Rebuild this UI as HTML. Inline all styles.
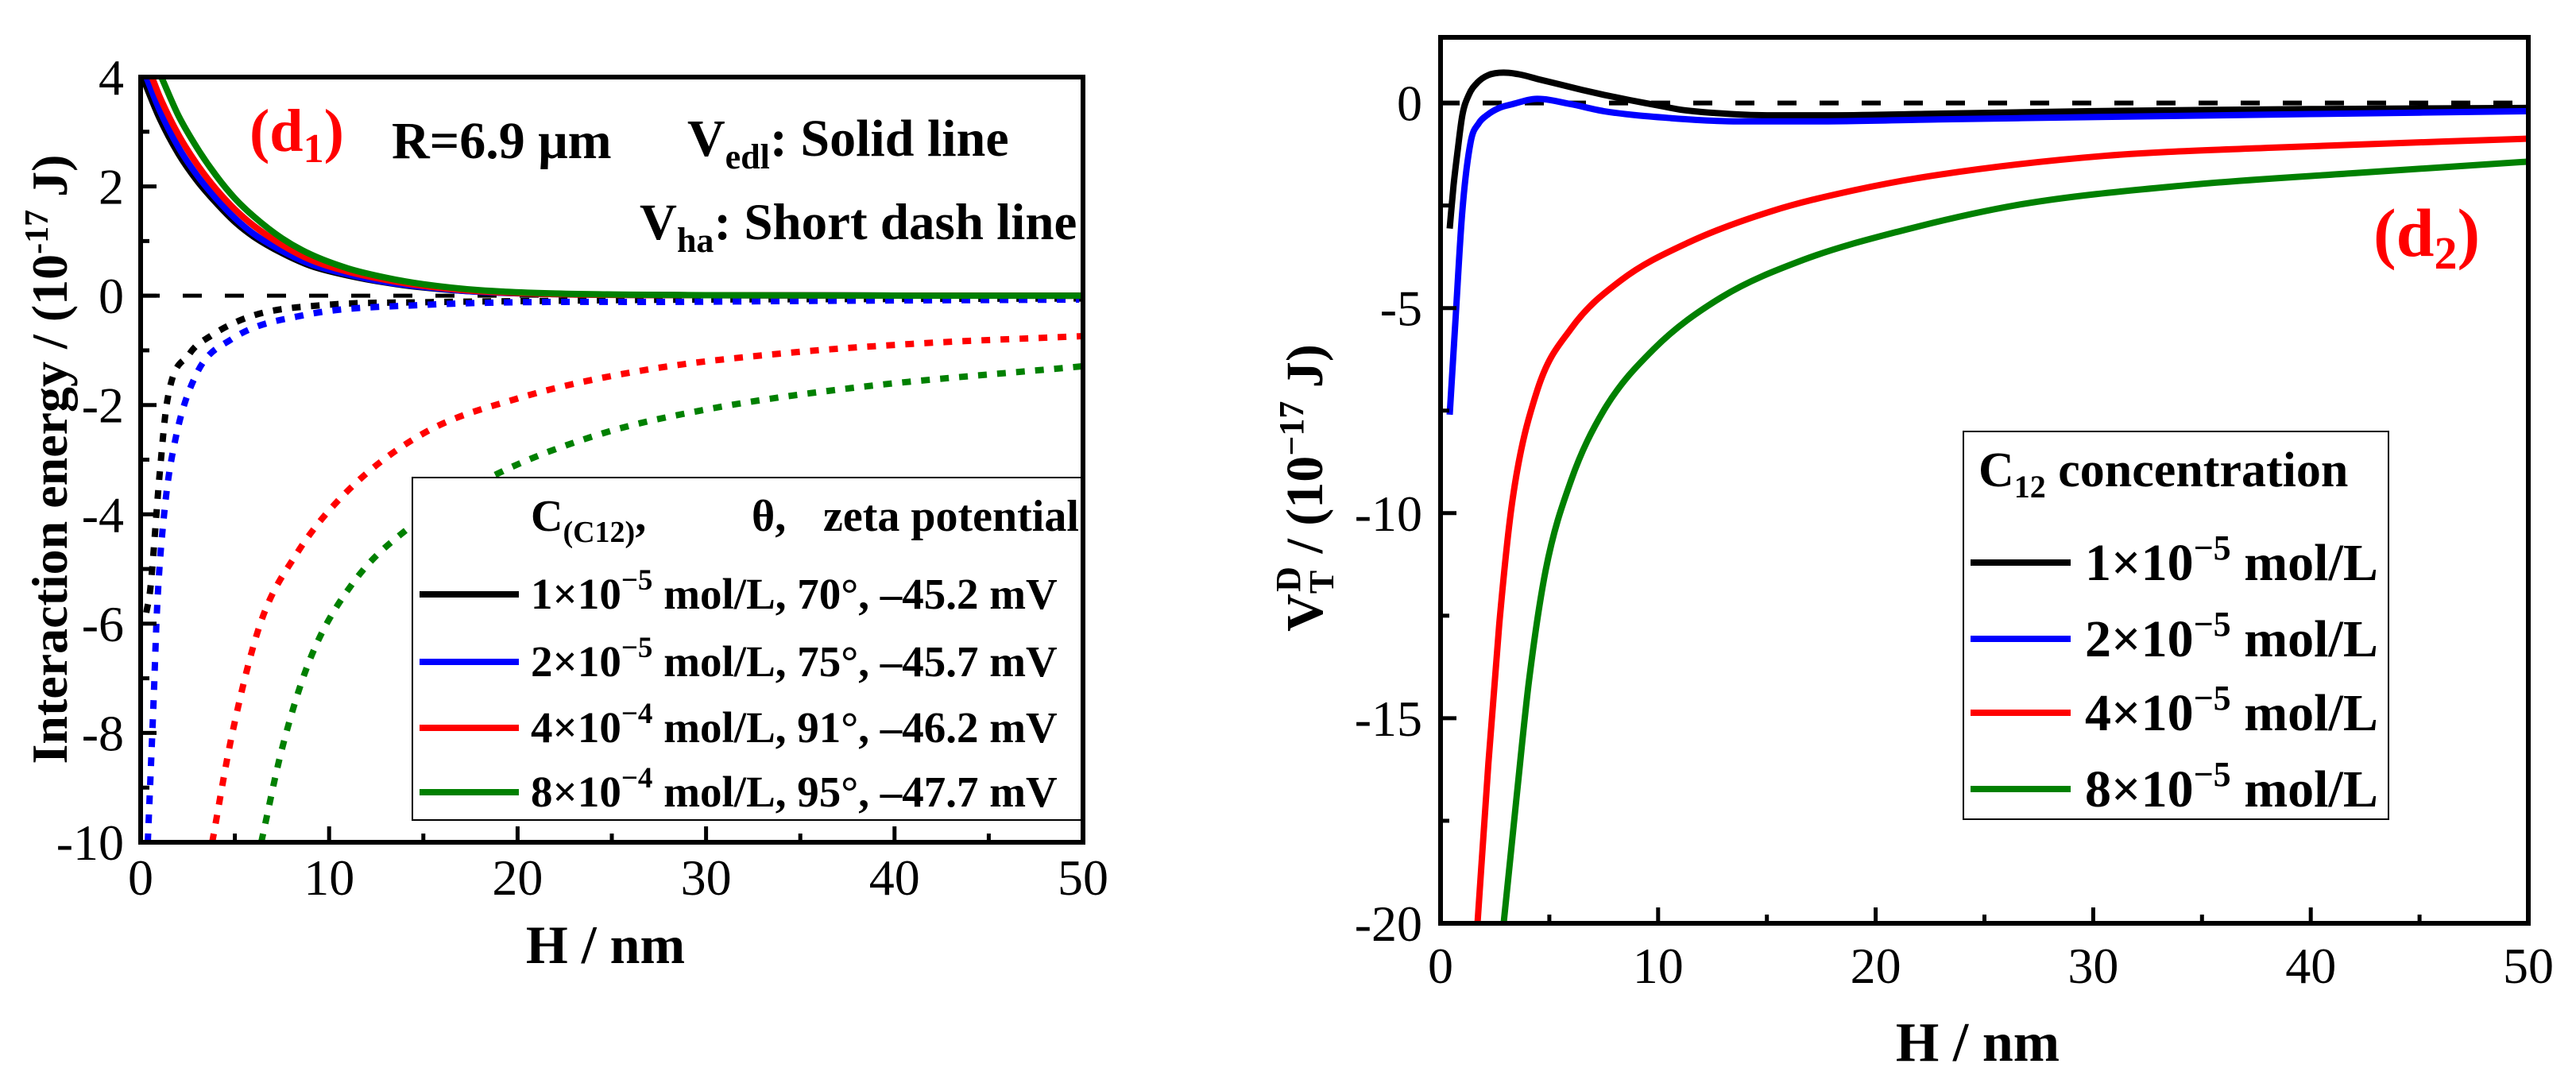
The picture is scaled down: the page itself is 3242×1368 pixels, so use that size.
<!DOCTYPE html>
<html><head><meta charset="utf-8"><style>
html,body{margin:0;padding:0;background:#fff;}
svg{display:block;}
svg text{font-family:"Liberation Serif","Times New Roman",serif;}
</style></head><body>
<svg id="fig" width="3242" height="1368" viewBox="0 0 3242 1368" xmlns="http://www.w3.org/2000/svg" font-family="Liberation Serif, serif">
<defs>
<clipPath id="clipL"><rect x="177" y="97" width="1186" height="963"/></clipPath>
<clipPath id="clipR"><rect x="1813" y="47" width="1369" height="1115"/></clipPath>
</defs>
<g id="gL"></g>
<g id="gR"></g>
</svg>
<script>
// ---------- Panel d1 data ----------
const d1Xticks = [0,10,20,30,40,50];
const d1Yticks = [4,2,0,-2,-4,-6,-8,-10];
const d1SolidColors = ['#000000','#0000ff','#ff0000','#008000'];
const d1SolidBlackH = [0.1,1,2,3,4,5,6,7.5,9,11,13,15,18,22,30,50];
const d1SolidBlackV = [4,3.25,2.6,2.1,1.7,1.35,1.08,0.78,0.55,0.37,0.24,0.15,0.07,0.03,0.01,0];
const d1SolidBlueH = [0.3,1,2,3,4,5,6,7.5,9,11,13,15,18,22,30,50];
const d1SolidBlueV = [4,3.4,2.72,2.2,1.78,1.42,1.13,0.82,0.58,0.39,0.25,0.16,0.07,0.03,0.01,0];
const d1SolidRedH = [0.6,1,2,3,4,5,6,7.5,9,11,13,15,18,22,30,50];
const d1SolidRedV = [4,3.65,2.95,2.4,1.95,1.58,1.28,0.93,0.66,0.44,0.29,0.18,0.08,0.03,0.01,0];
const d1SolidGreenH = [1.1,2,3,4,5,6,7.5,9,11,13,15,18,22,30,50];
const d1SolidGreenV = [4,3.3,2.7,2.2,1.78,1.45,1.05,0.76,0.5,0.33,0.21,0.1,0.04,0.01,0];
const d1DotBlackH = [0.3,0.5,1.0,1.4,2.6,3.7,6,9.8,15,20,30,40,50];
const d1DotBlackV = [-5.8,-5.4,-3.3,-1.95,-1.06,-0.74,-0.36,-0.17,-0.12,-0.1,-0.07,-0.06,-0.05];
const d1DotBlueH = [0.38,0.7,0.87,1.25,1.8,2.95,4.8,8.6,15,30,49.8];
const d1DotBlueV = [-10,-7.3,-5.75,-3.98,-2.7,-1.44,-0.8,-0.36,-0.17,-0.11,-0.07];
const d1DotRedH = [3.8,4.85,6.35,8.24,10.9,15,20,26.4,33.9,41.5,50];
const d1DotRedV = [-10,-8.03,-6.0,-4.74,-3.6,-2.52,-1.88,-1.38,-1.06,-0.87,-0.74];
const d1DotGreenH = [6.4,7.5,9,11.3,14.3,18.8,24.5,30.2,37.7,50];
const d1DotGreenV = [-10,-8.29,-6.64,-5.24,-4.23,-3.28,-2.52,-2.07,-1.69,-1.29];
const d1LegendLabels = ['1\u00d710','2\u00d710','4\u00d710','8\u00d710'];
const d1LegendExp = ['\u22125','\u22125','\u22124','\u22124'];
const d1LegendRest = [' mol/L, 70\u00b0, \u201345.2 mV',' mol/L, 75\u00b0, \u201345.7 mV',' mol/L, 91\u00b0, \u201346.2 mV',' mol/L, 95\u00b0, \u201347.7 mV'];

// ---------- Panel d2 data ----------
const d2Xticks = [0,10,20,30,40,50];
const d2Yticks = [0,-5,-10,-15,-20];
const d2Colors = ['#000000','#0000ff','#ff0000','#008000'];
const d2BlackH = [0.42,0.6,0.8,1.0,1.3,1.7,2.2,2.9,3.6,4.5,5.5,6.5,7.5,8.7,10,11,12.5,15,18,23,30,40,50];
const d2BlackV = [-3.06,-2.0,-1.1,-0.3,0.2,0.5,0.68,0.74,0.7,0.58,0.45,0.32,0.2,0.07,-0.06,-0.16,-0.24,-0.3,-0.3,-0.26,-0.2,-0.15,-0.12];
const d2BlueH = [0.42,0.7,1.0,1.38,1.75,2.15,2.7,3.3,4.45,6,7.5,10.6,13.7,17.1,22.9,30.5,40,50];
const d2BlueV = [-7.6,-5.16,-2.64,-0.96,-0.5,-0.29,-0.12,-0.03,0.1,-0.03,-0.2,-0.37,-0.45,-0.45,-0.4,-0.34,-0.27,-0.2];
const d2RedH = [1.7,2.2,2.7,3.3,4.45,6,8.3,11.4,15.2,19,22.9,30.5,38.2,50];
const d2RedV = [-20,-16.1,-12.7,-9.7,-7.0,-5.5,-4.32,-3.4,-2.64,-2.13,-1.75,-1.29,-1.09,-0.87];
const d2GreenH = [2.9,3.5,4.07,4.83,6,7.5,9.8,12.9,16.7,21,26.7,34.4,42,50];
const d2GreenV = [-20,-16.9,-14.07,-11.4,-9.2,-7.5,-6.0,-4.74,-3.82,-3.14,-2.47,-2.0,-1.71,-1.43];
const d2LegendLabels = ['1\u00d710','2\u00d710','4\u00d710','8\u00d710'];

const NS='http://www.w3.org/2000/svg';
const FF='Liberation Serif, serif';
function mk(tag, attrs, parent){const e=document.createElementNS(NS,tag);for(const k in attrs)e.setAttribute(k,attrs[k]);if(tag==='text')e.setAttribute('font-family',FF);parent.appendChild(e);return e;}
function sp(parent,txt,attrs){const e=document.createElementNS(NS,'tspan');for(const k in (attrs||{}))e.setAttribute(k,attrs[k]);e.textContent=txt;parent.appendChild(e);return e;}

function smoothPath(px,py){
  const n=px.length; if(n<2) return '';
  const d=[],m=new Array(n);
  for(let i=0;i<n-1;i++) d.push((py[i+1]-py[i])/(px[i+1]-px[i]));
  m[0]=d[0]; m[n-1]=d[n-2];
  for(let i=1;i<n-1;i++){ m[i]=(d[i-1]*d[i]<=0)?0:(d[i-1]+d[i])/2; }
  let s='M'+px[0].toFixed(1)+' '+py[0].toFixed(1);
  for(let i=0;i<n-1;i++){
    const h=px[i+1]-px[i];
    s+=' C'+(px[i]+h/3).toFixed(1)+' '+(py[i]+m[i]*h/3).toFixed(1)+' '+(px[i+1]-h/3).toFixed(1)+' '+(py[i+1]-m[i+1]*h/3).toFixed(1)+' '+px[i+1].toFixed(1)+' '+py[i+1].toFixed(1);
  }
  return s;
}

// ================= Panel d1 =================
(function(){
const g=document.getElementById('gL');
const X0=177,X1=1363,Y0=97,Y1=1060;
const xs=v=>X0+(v-0)/(50-0)*(X1-X0);
const ys=v=>Y0+(4-v)/(4-(-10))*(Y1-Y0);
const plot=mk('g',{'clip-path':'url(#clipL)'},g);
let z=mk('line',{x1:X0,x2:X1,y1:ys(0),y2:ys(0),stroke:'#000','stroke-width':5,'stroke-dasharray':'24 29'},plot);


const dots=[[d1DotBlackH,d1DotBlackV],[d1DotBlueH,d1DotBlueV],[d1DotRedH,d1DotRedV],[d1DotGreenH,d1DotGreenV]];
const dnames=['vha-1e-5','vha-2e-5','vha-4e-4','vha-8e-4'];
dots.forEach((s,i)=>{
  const p=mk('path',{d:smoothPath(s[0].map(xs),s[1].map(ys)),fill:'none',stroke:d1SolidColors[i],'stroke-width':8,'stroke-dasharray':'11 13'},plot);
  
  
});
const sol=[[d1SolidBlackH,d1SolidBlackV],[d1SolidBlueH,d1SolidBlueV],[d1SolidRedH,d1SolidRedV],[d1SolidGreenH,d1SolidGreenV]];
const snames=['vedl-1e-5','vedl-2e-5','vedl-4e-4','vedl-8e-4'];
sol.forEach((s,i)=>{
  const p=mk('path',{d:smoothPath(s[0].map(xs),s[1].map(ys)),fill:'none',stroke:d1SolidColors[i],'stroke-width':8},plot);
  
  
});
const lg=mk('g',{},g);


mk('rect',{x:519,y:601,width:842,height:431,fill:'#fff',stroke:'#000','stroke-width':2},lg);
let t=mk('text',{x:668,y:668,'font-size':56,'font-weight':'bold'},lg);
sp(t,'C'); sp(t,'(C12)',{'font-size':38,dy:14}); sp(t,',',{dy:-14});


t=mk('text',{x:946,y:668,'font-size':56,'font-weight':'bold'},lg); t.textContent='\u03b8,';


t=mk('text',{x:1036,y:668,'font-size':56,'font-weight':'bold'},lg); t.textContent='zeta potential';


const rowBase=[766,851,934,1015];
d1LegendLabels.forEach((lab,i)=>{
  const e=mk('g',{},lg);
  
  
  mk('line',{x1:528,x2:653,y1:rowBase[i]-18,y2:rowBase[i]-18,stroke:d1SolidColors[i],'stroke-width':8},e);
  const tt=mk('text',{x:668,y:rowBase[i],'font-size':55,'font-weight':'bold'},e);
  sp(tt,lab); sp(tt,d1LegendExp[i],{'font-size':37,dy:-24}); sp(tt,d1LegendRest[i],{dy:24});
});
const fr=mk('rect',{x:X0,y:Y0,width:X1-X0,height:Y1-Y0,fill:'none',stroke:'#000','stroke-width':6},g);


for(let v=0;v<=50;v+=5){const L=(v%10===0)?20:11;mk('line',{x1:xs(v),x2:xs(v),y1:Y1,y2:Y1-L,stroke:'#000','stroke-width':5},g);}
for(let v=-10;v<=4;v+=1){const L=(v%2===0)?20:11;mk('line',{x1:X0,x2:X0+L,y1:ys(v),y2:ys(v),stroke:'#000','stroke-width':5},g);}
d1Xticks.forEach(v=>{const tl=mk('text',{x:xs(v),y:1126,'font-size':64,'text-anchor':'middle'},g);tl.textContent=v;
   });
d1Yticks.forEach(v=>{const tl=mk('text',{x:156,y:ys(v)+22,'font-size':64,'text-anchor':'end'},g);tl.textContent=v;
   });
t=mk('text',{x:762,y:1212,'font-size':68,'font-weight':'bold','text-anchor':'middle'},g); t.textContent='H / nm';
 
t=mk('text',{x:0,y:0,'font-size':64,'font-weight':'bold','text-anchor':'middle',transform:'translate(84,578) rotate(-90)'},g);
sp(t,'Interaction energy / (10'); sp(t,'-17',{'font-size':42,dy:-24}); sp(t,' J)',{dy:24});
 
t=mk('text',{x:314,y:190,'font-size':76,'font-weight':'bold',fill:'#ff0000'},g);
sp(t,'(d'); sp(t,'1',{'font-size':52,dy:14}); sp(t,')',{dy:-14});
 
t=mk('text',{x:493,y:199,'font-size':66,'font-weight':'bold'},g); t.textContent='R=6.9 \u03bcm';
 
t=mk('text',{x:865,y:196,'font-size':66,'font-weight':'bold'},g);
sp(t,'V'); sp(t,'edl',{'font-size':44,dy:16}); sp(t,': Solid line',{dy:-16});
 
t=mk('text',{x:805,y:301,'font-size':65,'font-weight':'bold'},g);
sp(t,'V'); sp(t,'ha',{'font-size':44,dy:16}); sp(t,': Short dash line',{dy:-16});
 
})();

// ================= Panel d2 =================
(function(){
const g=document.getElementById('gR');
const X0=1813,X1=3182,Y0=47,Y1=1162;
const xs=v=>X0+(v-0)/(50-0)*(X1-X0);
const ys=v=>Y1-(v-(-20))/(1.6-(-20))*(Y1-Y0);
const plot=mk('g',{'clip-path':'url(#clipR)'},g);
let z=mk('line',{x1:X0,x2:X1,y1:ys(0),y2:ys(0),stroke:'#000','stroke-width':6,'stroke-dasharray':'24 29'},plot);


const ser=[[d2BlackH,d2BlackV],[d2BlueH,d2BlueV],[d2RedH,d2RedV],[d2GreenH,d2GreenV]];
const names=['vt-1e-5','vt-2e-5','vt-4e-5','vt-8e-5'];
ser.forEach((s,i)=>{
  const p=mk('path',{d:smoothPath(s[0].map(xs),s[1].map(ys)),fill:'none',stroke:d2Colors[i],'stroke-width':8},plot);
  
  
});
const fr=mk('rect',{x:X0,y:Y0,width:X1-X0,height:Y1-Y0,fill:'none',stroke:'#000','stroke-width':6},g);


for(let v=0;v<=50;v+=5){const L=(v%10===0)?20:11;mk('line',{x1:xs(v),x2:xs(v),y1:Y1,y2:Y1-L,stroke:'#000','stroke-width':5},g);}
for(let v=-20;v<=0;v+=2.5){const L=(v%5===0)?20:11;mk('line',{x1:X0,x2:X0+L,y1:ys(v),y2:ys(v),stroke:'#000','stroke-width':5},g);}
d2Xticks.forEach(v=>{const tl=mk('text',{x:xs(v),y:1237,'font-size':64,'text-anchor':'middle'},g);tl.textContent=v;
   });
d2Yticks.forEach(v=>{const tl=mk('text',{x:1790,y:ys(v)+22,'font-size':64,'text-anchor':'end'},g);tl.textContent=v;
   });
let t=mk('text',{x:2489,y:1335,'font-size':70,'font-weight':'bold','text-anchor':'middle'},g); t.textContent='H / nm';
 
t=mk('text',{x:0,y:0,'font-size':66,'font-weight':'bold','text-anchor':'middle',transform:'translate(1664,614) rotate(-90)'},g);
sp(t,'V'); sp(t,'T',{'font-size':44,dy:14}); sp(t,'D',{'font-size':44,dx:-27,dy:-42}); sp(t,'  / (10',{dy:28}); sp(t,'\u221217',{'font-size':44,dy:-24}); sp(t,' J)',{dy:24});
 
t=mk('text',{x:2987,y:322,'font-size':86,'font-weight':'bold',fill:'#ff0000'},g);
sp(t,'(d'); sp(t,'2',{'font-size':58,dy:16}); sp(t,')',{dy:-16});
 
const lg=mk('g',{},g);


mk('rect',{x:2471,y:543,width:535,height:488,fill:'#fff',stroke:'#000','stroke-width':2},lg);
t=mk('text',{x:2490,y:612,'font-size':62,'font-weight':'bold'},lg);
sp(t,'C'); sp(t,'12',{'font-size':40,dy:14}); sp(t,' concentration',{dy:-14});
 
const rowBase=[730,826,919,1015];
d2LegendLabels.forEach((lab,i)=>{
  const e=mk('g',{},lg);
  
  
  mk('line',{x1:2480,x2:2606,y1:rowBase[i]-22,y2:rowBase[i]-22,stroke:d2Colors[i],'stroke-width':8},e);
  const tt=mk('text',{x:2624,y:rowBase[i],'font-size':66,'font-weight':'bold'},e);
  sp(tt,lab); sp(tt,'\u22125',{'font-size':44,dy:-26}); sp(tt,' mol/L',{dy:26});
});
})();
</script>
</body></html>
